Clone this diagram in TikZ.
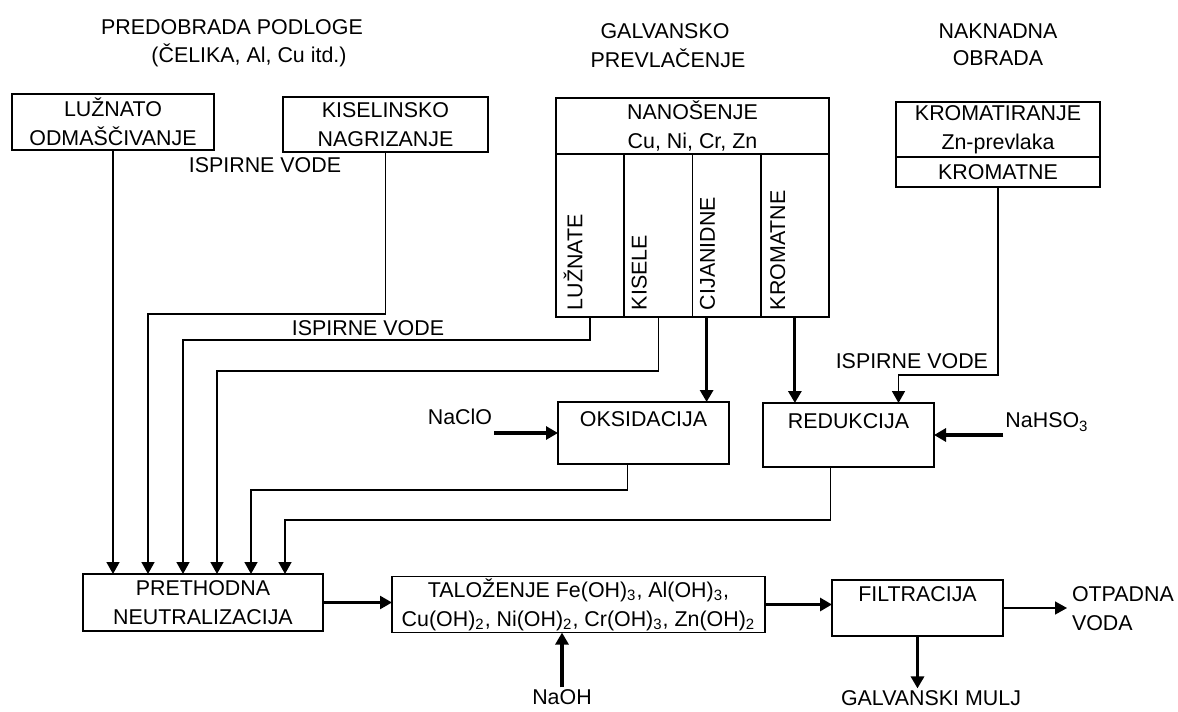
\documentclass[tikz,border=0pt]{standalone}
\usepackage{fontspec}
\setmainfont{Liberation Sans}
\usetikzlibrary{arrows.meta}

\begin{document}
\begin{tikzpicture}[x=0.5pt, y=-0.5pt,
    font=\fontsize{10.7}{14.5}\selectfont,
    every node/.style={inner sep=1pt, outer sep=0pt},
    box/.style={draw, line width=0.8pt, align=center},
    col/.style={draw, line width=0.8pt, minimum width=34.125pt, minimum height=81.5pt, anchor=north west},
    arr/.style={line width=0.8pt, -{Triangle[length=6pt,width=6.5pt]}},
    thickarr/.style={line width=1.6pt, -{Triangle[length=6pt,width=6.5pt]}}]
      \useasboundingbox (0,0) rectangle (1178,712);
      % titles
      \node (predobrada) at (232,27) {PREDOBRADA PODLOGE};
      \node (celika) at (249,55) {(ČELIKA, Al, Cu itd.)};
      \node (galvansko) at (665,31) {GALVANSKO};
      \node (prevlacenje) at (668,58) {PREVLAČENJE};
      \node (naknadna) at (998,31) {NAKNADNA};
      \node (obrada) at (998,58) {OBRADA};
      % predobrada
      \node[box, minimum width=101pt, minimum height=28pt] (luznato) at (113,122) {LUŽNATO\\ODMAŠČIVANJE};
      \node[box, minimum width=102.5pt, minimum height=27.5pt] (kiselinsko) at (385.5,124.5) {KISELINSKO\\NAGRIZANJE};
      \node (ispirne1) at (265,165) {ISPIRNE VODE};
      % galvansko prevlacenje
      \node[box, minimum width=136.5pt, minimum height=28pt] (nanosenje) at (692.5,126) {NANOŠENJE\\Cu, Ni, Cr, Zn};
      \node[col] (luznate) at (nanosenje.south west) {};
      \node[col] (kisele) at (luznate.north east) {};
      \node[col] (cijanidne) at (kisele.north east) {};
      \node[col] (kromatne) at (cijanidne.north east) {};
      \node[rotate=90, anchor=west] (luznatetxt) at ([xshift=8.5pt, yshift=2.5pt]luznate.south west) {LUŽNATE};
      \node[rotate=90, anchor=west] (kiseletxt) at ([xshift=7.5pt, yshift=2.5pt]kisele.south west) {KISELE};
      \node[rotate=90, anchor=west] (cijanidnetxt) at ([xshift=7.5pt, yshift=2.5pt]cijanidne.south west) {CIJANIDNE};
      \node[rotate=90, anchor=west] (kromatnetxt) at ([xshift=8.5pt, yshift=2.5pt]kromatne.south west) {KROMATNE};
      % naknadna obrada
      \node[box, minimum width=102pt, minimum height=27.5pt] (kromatiranje) at (998,129.5) {KROMATIRANJE\\Zn-prevlaka};
      \node[box, minimum width=102pt, minimum height=15pt, anchor=north] (kromatnevode) at (kromatiranje.south) {KROMATNE};
      % obrada otpadnih voda
      \node[box, minimum width=85.5pt, minimum height=31pt] (oksidacija) at (643.5,433) {};
      \node[anchor=north] (oksidacijatxt) at ([yshift=-3.75pt]oksidacija.north) {OKSIDACIJA};
      \node[box, minimum width=85.5pt, minimum height=32pt] (redukcija) at (848.5,435) {};
      \node[anchor=north] (redukcijatxt) at ([yshift=-4.25pt]redukcija.north) {REDUKCIJA};
      \node (naclo) at (460,417) {NaClO};
      \node (nahso) at (1047,422) {NaHSO\textsubscript{3}};
      \node[anchor=east] (ispirne3) at (990,361) {ISPIRNE VODE};
      \node (ispirne2) at (368,328) {ISPIRNE VODE};
      \node[box, minimum width=120pt, minimum height=28.5pt] (prethodna) at (203,602.5) {PRETHODNA\\NEUTRALIZACIJA};
      \node[box, minimum width=186.5pt, minimum height=27.5pt] (talozenje) at (578.5,604.5)
        {TALOŽENJE Fe(OH)\textsubscript{3}, Al(OH)\textsubscript{3},\\Cu(OH)\textsubscript{2}, Ni(OH)\textsubscript{2}, Cr(OH)\textsubscript{3}, Zn(OH)\textsubscript{2}};
      \node[box, minimum width=85.5pt, minimum height=28pt] (filtracija) at (917.5,608) {};
      \node[anchor=north] (filtracijatxt) at ([yshift=-2.5pt]filtracija.north) {FILTRACIJA};
      \node[anchor=west, align=left] (otpadna) at (1070,609) {OTPADNA\\VODA};
      \node (mulj) at (931,698) {GALVANSKI MULJ};
      \node (naoh) at (562,697) {NaOH};
      % ispirne vode u neutralizaciju
      \draw[arr] (luznato.south) -- (luznato.south |- prethodna.north);
      \draw[arr] (kiselinsko.south) -- ++(0,162) -| ([xshift=-27.5pt]prethodna.north);
      \draw[arr] (luznate.south) -- ++(0,23) -| ([xshift=-10pt]prethodna.north);
      \draw[arr] (kisele.south) -- ++(0,54) -| ([xshift=7pt]prethodna.north);
      \draw[arr] ([xshift=-8pt]oksidacija.south) -- ++(0,26) -| ([xshift=24pt]prethodna.north);
      \draw[arr] ([xshift=-9pt]redukcija.south) -- ++(0,53) -| ([xshift=41pt]prethodna.north);
      % cijanidne i kromatne
      \draw[thickarr] ([xshift=-10pt]cijanidne.south) -- ([xshift=-10pt]cijanidne.south |- oksidacija.north);
      \draw[thickarr] (kromatne.south) -- (kromatne.south |- redukcija.north);
      \draw[arr] (kromatnevode.south) |- ([xshift=25pt, yshift=14pt]redukcija.north) -- ([xshift=25pt]redukcija.north);
      \draw[thickarr] (naclo.south east |- oksidacija.west) -- (oksidacija.west);
      \draw[thickarr] (nahso.south west |- redukcija.east) -- (redukcija.east);
      % donji red
      \draw[arr, line width=1.2pt] (prethodna.east) -- (prethodna.east -| talozenje.west);
      \draw[thickarr] (talozenje.east) -- (talozenje.east -| filtracija.west);
      \draw[arr] (filtracija.east) -- ([xshift=-1.5pt]filtracija.east -| otpadna.west);
      \draw[thickarr] (filtracija.south) -- (filtracija.south |- mulj.north);
      \draw[thickarr] (naoh.north) -- (naoh.north |- talozenje.south);
\end{tikzpicture}
\end{document}
